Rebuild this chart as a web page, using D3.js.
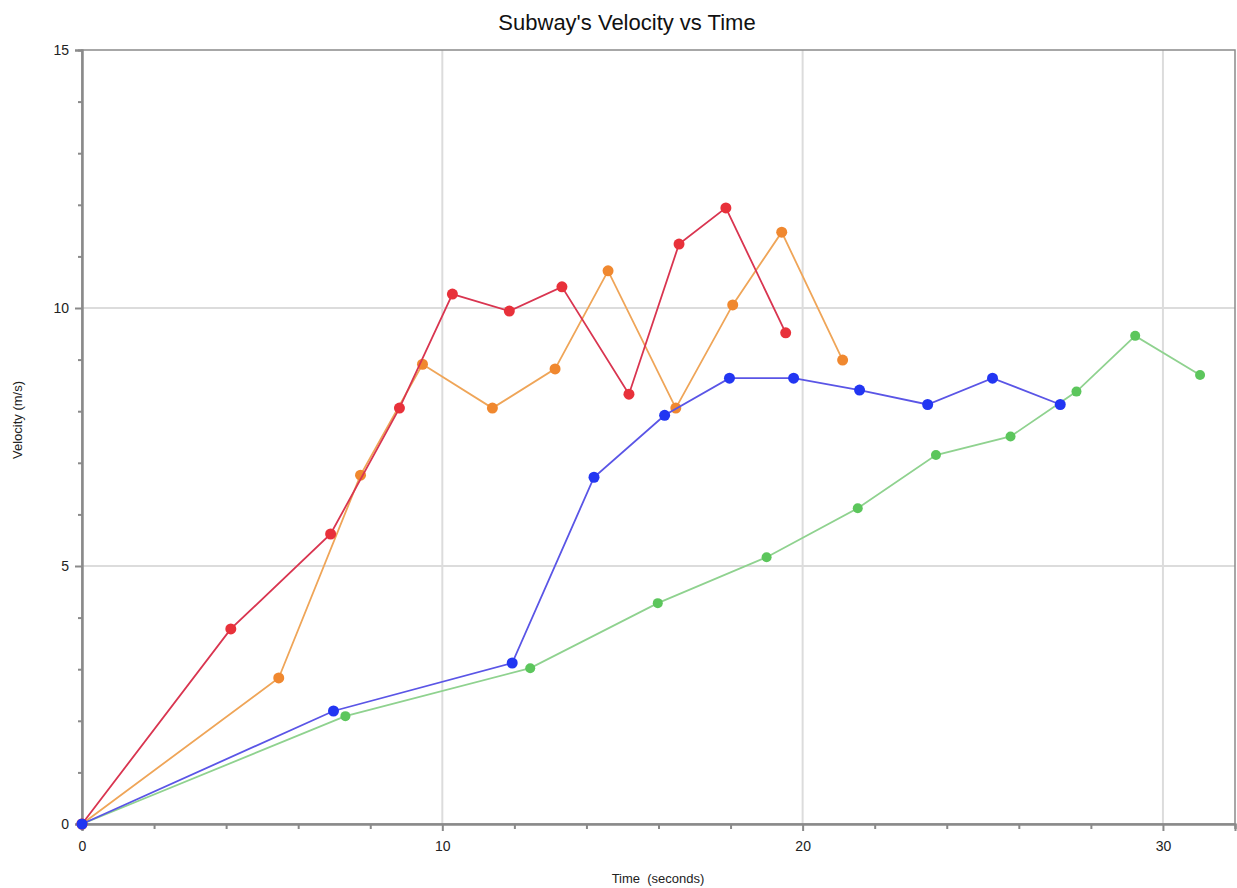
<!DOCTYPE html>
<html><head><meta charset="utf-8">
<script src="https://cdn.jsdelivr.net/npm/d3@7"></script>
<style>body{margin:0;background:#fff}svg{display:block}text{font-family:"Liberation Sans",Arial,sans-serif}</style>
</head><body><svg id="c" width="1237" height="888"></svg>
<script>
const title = "Subway's Velocity vs Time";
const xLabel = "Time  (seconds)";
const yLabel = "Velocity (m/s)";
const xTicks = [0, 10, 20, 30];
const yTicks = [0, 5, 10, 15];
const redT = [0, 4.13, 6.9, 8.81, 10.28, 11.86, 13.32, 15.18, 16.57, 17.87, 19.53];
const redV = [0, 3.78, 5.62, 8.06, 10.27, 9.94, 10.41, 8.33, 11.24, 11.94, 9.52];
const orangeT = [0, 5.46, 7.73, 9.45, 11.39, 13.13, 14.60, 16.48, 18.06, 19.42, 21.11];
const orangeV = [0, 2.83, 6.76, 8.91, 8.06, 8.82, 10.72, 8.06, 10.06, 11.47, 8.99];
const blueT = [0, 6.98, 11.94, 14.21, 16.17, 17.97, 19.75, 21.58, 23.47, 25.27, 27.15];
const blueV = [0, 2.19, 3.12, 6.72, 7.92, 8.64, 8.64, 8.41, 8.13, 8.64, 8.13];
const greenT = [0, 7.31, 12.44, 15.98, 19.0, 21.53, 23.70, 25.77, 27.60, 29.23, 31.03];
const greenV = [0, 2.09, 3.02, 4.28, 5.17, 6.12, 7.15, 7.51, 8.38, 9.46, 8.70];

const series = [
  {t: greenT, v: greenV, line: "#8fd28f", dot: "#5cc65c", r: 5},
  {t: orangeT, v: orangeV, line: "#efa558", dot: "#f0882f", r: 5.5},
  {t: redT, v: redV, line: "#d93550", dot: "#e8313a", r: 5.5},
  {t: blueT, v: blueV, line: "#5a55e6", dot: "#2236f2", r: 5.5}
];

const L = 82, R = 1235, T = 50, B = 824;
const x = d3.scaleLinear().domain([0, 32]).range([L, R]);
const y = d3.scaleLinear().domain([0, 15]).range([B, T]);
const svg = d3.select("#c");

// grid
svg.append("g").selectAll("line").data(xTicks.filter(d => d > 0)).join("line")
  .attr("x1", d => x(d)).attr("x2", d => x(d)).attr("y1", T).attr("y2", B)
  .attr("stroke", "#dcdcdc").attr("stroke-width", 2);
svg.append("g").selectAll("line").data(yTicks.filter(d => d > 0 && d < 15)).join("line")
  .attr("x1", L).attr("x2", R).attr("y1", d => y(d)).attr("y2", d => y(d))
  .attr("stroke", "#dcdcdc").attr("stroke-width", 2);

// frame
svg.append("rect").attr("x", L).attr("y", T).attr("width", R - L).attr("height", B - T)
  .attr("fill", "none").attr("stroke", "#8a8a8a").attr("stroke-width", 1.5);

// axes
const xMinor = d3.range(0, 33, 2).filter(d => d % 10 !== 0);
const yMinor = d3.range(0, 16, 1).filter(d => d % 5 !== 0);
const xa = svg.append("g").attr("transform", `translate(0,${B})`)
  .call(d3.axisBottom(x).tickValues(xTicks).tickSize(7).tickPadding(10).tickFormat(d3.format("d")));
const xm = svg.append("g").attr("transform", `translate(0,${B})`)
  .call(d3.axisBottom(x).tickValues(xMinor).tickSize(5).tickFormat(""));
const ya = svg.append("g").attr("transform", `translate(${L},0)`)
  .call(d3.axisLeft(y).tickValues(yTicks).tickSize(7).tickPadding(6).tickFormat(d3.format("d")));
const ym = svg.append("g").attr("transform", `translate(${L},0)`)
  .call(d3.axisLeft(y).tickValues(yMinor).tickSize(4).tickFormat(""));
[xa, xm, ya, ym].forEach(g => {
  g.select(".domain").attr("stroke", "#8a8a8a").attr("stroke-width", 2);
  g.selectAll(".tick line").attr("stroke", "#8a8a8a").attr("stroke-width", 2);
  g.selectAll(".tick text").attr("font-size", 14).attr("fill", "#222");
});

// series
const line = d3.line().x(d => x(d[0])).y(d => y(d[1]));
series.forEach(s => {
  const pts = s.t.map((t, i) => [t, s.v[i]]);
  svg.append("path").datum(pts).attr("d", line).attr("fill", "none")
    .attr("stroke", s.line).attr("stroke-width", 1.8);
  svg.append("g").selectAll("circle").data(pts).join("circle")
    .attr("cx", d => x(d[0])).attr("cy", d => y(d[1])).attr("r", s.r).attr("fill", s.dot);
});

// labels
svg.append("text").attr("x", 627).attr("y", 30).attr("text-anchor", "middle")
  .attr("font-size", 22).attr("fill", "#111").text(title);
svg.append("text").attr("x", 658).attr("y", 883).attr("text-anchor", "middle")
  .attr("font-size", 13).attr("fill", "#222").attr("xml:space", "preserve").style("white-space", "pre").text(xLabel);
svg.append("text").attr("transform", "translate(22,420) rotate(-90)").attr("text-anchor", "middle")
  .attr("font-size", 13).attr("fill", "#222").text(yLabel);
</script></body></html>
